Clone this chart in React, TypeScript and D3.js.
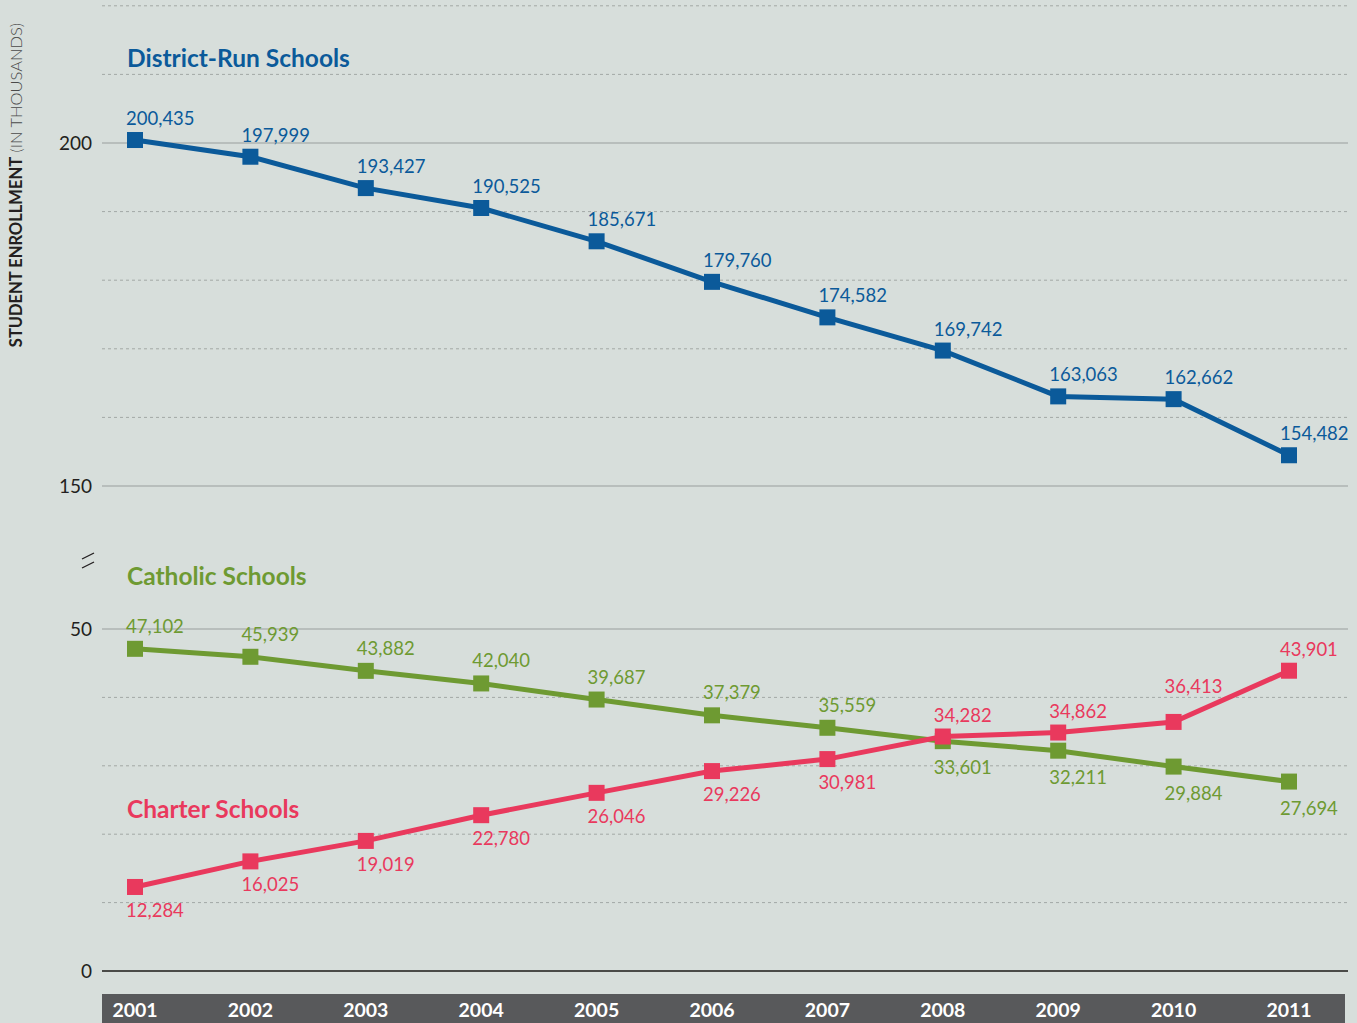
import React from 'react';
import * as d3 from 'd3';

const years = [2001, 2002, 2003, 2004, 2005, 2006, 2007, 2008, 2009, 2010, 2011];
const district = [200435, 197999, 193427, 190525, 185671, 179760, 174582, 169742, 163063, 162662, 154482];
const catholic = [47102, 45939, 43882, 42040, 39687, 37379, 35559, 33601, 32211, 29884, 27694];
const charter = [12284, 16025, 19019, 22780, 26046, 29226, 30981, 34282, 34862, 36413, 43901];

const topSolid = [150, 200];
const topDashed = [160, 170, 180, 190, 210, 220];
const bottomSolid = [50];
const bottomDashed = [10, 20, 30, 40];
const tickLabels = [
  { panel: 'top', v: 200 },
  { panel: 'top', v: 150 },
  { panel: 'bottom', v: 50 },
  { panel: 'bottom', v: 0 },
];

const BLUE = '#0b5a9a';
const GREEN = '#6e9a32';
const PINK = '#e9395d';
const BG = '#d7dedb';

const W = 1357;
const H = 1023;
const FONT = 'Lato, "Open Sans", sans-serif';

export default function App() {
  const x = d3.scaleLinear().domain([2001, 2011]).range([135, 1289]);
  const yTop = d3.scaleLinear().domain([150, 200]).range([486, 143]);
  const yBot = d3.scaleLinear().domain([0, 50]).range([971, 629]);
  const fmt = d3.format(',');
  const gridX0 = 102;
  const gridX1 = 1348;

  const series = [
    { name: 'district', values: district, y: yTop, color: BLUE },
    { name: 'catholic', values: catholic, y: yBot, color: GREEN },
    { name: 'charter', values: charter, y: yBot, color: PINK },
  ];

  // label sits above or below its marker depending on which line is on top
  const labelOffset = (name: string, i: number) => {
    if (name === 'district') return -15;
    if (name === 'catholic') return catholic[i] > charter[i] ? -16 : 33;
    if (charter[i] > catholic[i]) {
      // steep segment after 2010 -> lift label clear of the line
      const next = charter[i + 1];
      return next !== undefined && next - charter[i] > 5000 ? -29 : -15;
    }
    return 30;
  };

  return (
    <div style={{ position: 'absolute', left: 0, top: 0 }}>
      <svg width={W} height={H} style={{ display: 'block', background: BG, fontFamily: FONT }}>
        <rect width={W} height={H} fill={BG} />
        {/* gridlines */}
        {topDashed.map((v) => (
          <line key={'td' + v} x1={gridX0} x2={gridX1} y1={yTop(v)} y2={yTop(v)} stroke="#a3a8a6" strokeWidth={1} strokeDasharray="3,3" />
        ))}
        {topSolid.map((v) => (
          <line key={'ts' + v} x1={gridX0} x2={gridX1} y1={yTop(v)} y2={yTop(v)} stroke="#9a9e9d" strokeWidth={1.2} />
        ))}
        {bottomDashed.map((v) => (
          <line key={'bd' + v} x1={gridX0} x2={gridX1} y1={yBot(v)} y2={yBot(v)} stroke="#a3a8a6" strokeWidth={1} strokeDasharray="3,3" />
        ))}
        {bottomSolid.map((v) => (
          <line key={'bs' + v} x1={gridX0} x2={gridX1} y1={yBot(v)} y2={yBot(v)} stroke="#9a9e9d" strokeWidth={1.2} />
        ))}
        <line x1={gridX0} x2={gridX1} y1={yBot(0)} y2={yBot(0)} stroke="#4a4b48" strokeWidth={2} />

        {/* tick labels */}
        {tickLabels.map((t) => (
          <text key={t.panel + t.v} x={92} y={(t.panel === 'top' ? yTop(t.v) : yBot(t.v)) + 7} textAnchor="end" fontSize={19} fill="#231f20">
            {t.v}
          </text>
        ))}

        {/* axis break */}
        <g stroke="#231f20" strokeWidth={1.3}>
          <line x1={82} y1={559} x2={94} y2={553} />
          <line x1={82} y1={568} x2={94} y2={562} />
        </g>

        {/* y axis title */}
        <text transform="translate(22,185) rotate(-90)" textAnchor="middle" fontSize={16.5} fill="#231f20">
          <tspan fontWeight="bold">STUDENT ENROLLMENT</tspan>
          <tspan fontWeight="300" fill="#4a4a4a"> (IN THOUSANDS)</tspan>
        </text>

        {/* series titles */}
        <text x={127} y={67} fontSize={24.5} fontWeight="bold" fill={BLUE}>District-Run Schools</text>
        <text x={127} y={585} fontSize={24.5} fontWeight="bold" fill={GREEN}>Catholic Schools</text>
        <text x={127} y={818} fontSize={24.5} fontWeight="bold" fill={PINK}>Charter Schools</text>

        {/* lines & markers */}
        {series.map((s) => {
          const line = d3
            .line<number>()
            .x((_, i) => x(years[i]))
            .y((d) => s.y(d / 1000));
          return (
            <g key={s.name}>
              <path d={line(s.values) || ''} fill="none" stroke={s.color} strokeWidth={5} />
              {s.values.map((v, i) => (
                <rect key={i} x={x(years[i]) - 8} y={s.y(v / 1000) - 8} width={16} height={16} fill={s.color} />
              ))}
            </g>
          );
        })}
        {series.map((s) =>
          s.values.map((v, i) => (
            <text
              key={s.name + 'l' + i}
              x={x(years[i]) - 9}
              y={s.y(v / 1000) + labelOffset(s.name, i)}
              fontSize={18.5}
              fill={s.color}
            >
              {fmt(v)}
            </text>
          ))
        )}

        {/* year bar */}
        <rect x={102} y={994} width={1243} height={29} fill="#58595b" />
        {years.map((yr) => (
          <text key={yr} x={x(yr)} y={1017} textAnchor="middle" fontSize={19.5} fontWeight="bold" fill="#ffffff">
            {yr}
          </text>
        ))}
      </svg>
    </div>
  );
}
